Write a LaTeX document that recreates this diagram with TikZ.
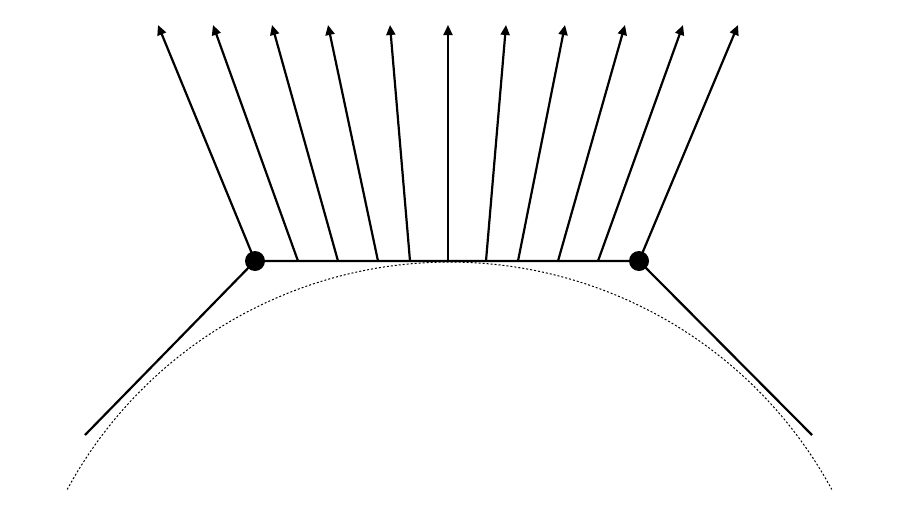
\documentclass[tikz,border=0pt]{standalone}
\usetikzlibrary{arrows.meta}
\begin{document}
\begin{tikzpicture}[x=1pt,y=-1pt,
  ray/.style={line width=2.2pt,-{Triangle[length=10pt,width=9pt]}},
  seg/.style={line width=2.2pt},
  guide/.style={line width=1pt,dash pattern=on 2pt off 2pt},
  dotnode/.style={circle,fill=black,inner sep=0pt,minimum size=20pt}]
\useasboundingbox (0,0) rectangle (921,517);
% dotted circle arc
\draw[guide] plot[domain=151.5:28.5,samples=120] ({449.5+435*cos(\x)},{697-435*sin(\x)});
% base points
\foreach \i/\bx/\tx in {0/255/158,1/298/213,2/338/272,3/378/328,4/410/390,5/448/448,6/486/506,7/518/565,8/558/625,9/598/683,10/639/738}{
  \coordinate (b\i) at (\bx,261);
  \coordinate (t\i) at (\tx,25);
}
\coordinate (l) at (85,435);
\coordinate (r) at (812,435);
\draw[seg] (l) -- (b0) -- (b10) -- (r);
\foreach \i in {0,...,10}{ \draw[ray] (b\i) -- (t\i); }
\node[dotnode] (d0) at (b0) {};
\node[dotnode] (d1) at (b10) {};
\end{tikzpicture}
\end{document}
